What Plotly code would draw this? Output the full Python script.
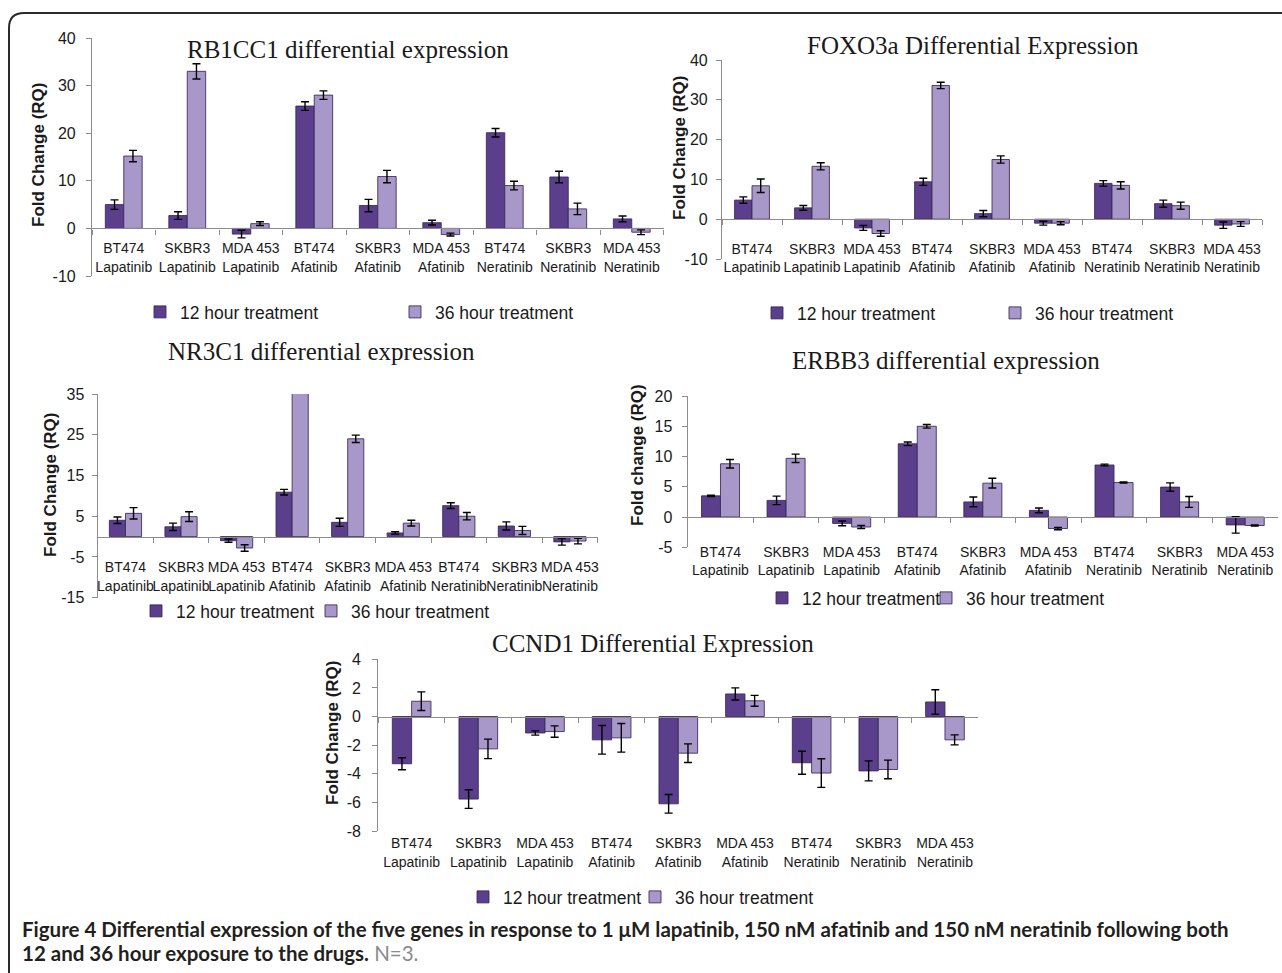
import plotly.graph_objects as go

W, H = 1282, 973

categories = ["BT474<br>Lapatinib", "SKBR3<br>Lapatinib", "MDA 453<br>Lapatinib",
              "BT474<br>Afatinib", "SKBR3<br>Afatinib", "MDA 453<br>Afatinib",
              "BT474<br>Neratinib", "SKBR3<br>Neratinib", "MDA 453<br>Neratinib"]
series_names = ["12 hour treatment", "36 hour treatment"]

rb1cc1_12h = [5.0, 2.7, -1.2, 25.7, 4.8, 1.2, 20.1, 10.8, 2.0]
rb1cc1_12h_err = [1.0, 0.8, 0.8, 0.9, 1.3, 0.5, 0.9, 1.2, 0.6]
rb1cc1_36h = [15.2, 33.0, 1.0, 28.0, 10.9, -1.3, 9.0, 4.1, -0.8]
rb1cc1_36h_err = [1.2, 1.6, 0.4, 0.9, 1.3, 0.3, 0.9, 1.2, 0.5]

foxo3a_12h = [4.8, 2.85, -2.2, 9.4, 1.4, -1.0, 9.0, 3.9, -1.5]
foxo3a_12h_err = [0.8, 0.6, 0.6, 0.9, 0.8, 0.5, 0.7, 0.9, 0.8]
foxo3a_36h = [8.4, 13.3, -3.6, 33.6, 15.0, -1.0, 8.5, 3.4, -1.2]
foxo3a_36h_err = [1.7, 0.9, 0.7, 0.8, 0.9, 0.4, 0.9, 0.9, 0.6]

nr3c1_12h = [4.0, 2.4, -1.0, 10.9, 3.5, 0.9, 7.6, 2.6, -1.3]
nr3c1_12h_err = [0.8, 0.9, 0.4, 0.7, 1.0, 0.3, 0.7, 1.0, 0.8]
nr3c1_36h = [5.7, 4.9, -2.8, 40.0, 24.0, 3.3, 5.0, 1.5, -1.1]
nr3c1_36h_err = [1.4, 1.2, 0.8, None, 0.9, 0.7, 0.9, 1.0, 0.7]

erbb3_12h = [3.5, 2.75, -1.05, 12.1, 2.5, 1.1, 8.6, 4.95, -1.3]
erbb3_12h_err = [0.1, 0.7, 0.4, 0.3, 0.8, 0.4, 0.15, 0.7, 1.35]
erbb3_36h = [8.8, 9.7, -1.65, 15.0, 5.6, -1.9, 5.7, 2.5, -1.4]
erbb3_36h_err = [0.7, 0.7, 0.25, 0.3, 0.8, 0.2, 0.1, 0.9, 0.1]

ccnd1_12h = [-3.3, -5.77, -1.15, -1.63, -6.1, 1.58, -3.23, -3.8, 1.02]
ccnd1_12h_err = [0.42, 0.65, 0.15, 1.0, 0.65, 0.42, 0.8, 0.7, 0.85]
ccnd1_36h = [1.07, -2.26, -1.05, -1.49, -2.56, 1.1, -3.95, -3.7, -1.63]
ccnd1_36h_err = [0.65, 0.68, 0.4, 1.0, 0.65, 0.38, 1.0, 0.65, 0.35]

C12 = "#5b3f8d"
C36 = "#a898ca"
EDGE = "rgba(55,40,85,0.85)"
AXC = "#8c8c8c"
TXT = "#1a1a1a"
SANS = "Liberation Sans, Arial, sans-serif"
SERIF = "Liberation Serif, Times New Roman, serif"
CAP = "Lato, Liberation Sans Narrow, sans-serif"


def fx(px):
    return px / W


def fy(py):
    return 1 - py / H


panels = [
    dict(title="RB1CC1 differential expression", ytitle="Fold Change (RQ)",
         v12=rb1cc1_12h, e12=rb1cc1_12h_err, v36=rb1cc1_36h, e36=rb1cc1_36h_err,
         yr=[-10, 40], tv=[-10, 0, 10, 20, 30, 40],
         xd=(92, 663.5), yd=(38, 276), tpos=(348, 49), ypos=(39, 155),
         xstand=7, ystand=7, lgx=(180, 435), lgy=312),
    dict(title="FOXO3a Differential Expression", ytitle="Fold Change (RQ)",
         v12=foxo3a_12h, e12=foxo3a_12h_err, v36=foxo3a_36h, e36=foxo3a_36h_err,
         yr=[-10, 40], tv=[-10, 0, 10, 20, 30, 40],
         xd=(722, 1262), yd=(60, 259), tpos=(973, 45), ypos=(679, 148),
         xstand=17, ystand=5, lgx=(797, 1035), lgy=313),
    dict(title="NR3C1 differential expression", ytitle="Fold Change (RQ)",
         v12=nr3c1_12h, e12=nr3c1_12h_err, v36=nr3c1_36h, e36=nr3c1_36h_err,
         yr=[-15, 35], tv=[-15, -5, 5, 15, 25, 35],
         xd=(97.7, 597.7), yd=(394, 597.7), tpos=(322, 351), ypos=(50, 485),
         xstand=18, ystand=4, lgx=(176, 351), lgy=611),
    dict(title="ERBB3 differential expression", ytitle="Fold change (RQ)",
         v12=erbb3_12h, e12=erbb3_12h_err, v36=erbb3_36h, e36=erbb3_36h_err,
         yr=[-5, 20], tv=[-5, 0, 5, 10, 15, 20],
         xd=(687.7, 1278), yd=(396, 547.3), tpos=(946, 360), ypos=(637, 455),
         xstand=22, ystand=6, lgx=(802, 966), lgy=598),
    dict(title="CCND1 Differential Expression", ytitle="Fold Change (RQ)",
         v12=ccnd1_12h, e12=ccnd1_12h_err, v36=ccnd1_36h, e36=ccnd1_36h_err,
         yr=[-8, 4], tv=[-8, -6, -4, -2, 0, 2, 4],
         xd=(378.3, 978.3), yd=(659.3, 831), tpos=(653, 643), ypos=(332, 733),
         xstand=114, ystand=8, lgx=(503, 675), lgy=897),
]

fig = go.Figure()
annotations = []
layout_axes = {}
legend_counter = 0

for i, p in enumerate(panels, start=1):
    sfx = "" if i == 1 else str(i)
    xa, ya = "x" + sfx, "y" + sfx
    for j, (name, vals, errs, col) in enumerate(
            [(series_names[0], p["v12"], p["e12"], C12),
             (series_names[1], p["v36"], p["e36"], C36)]):
        legend_counter += 1
        lgname = "legend" if legend_counter == 1 else "legend" + str(legend_counter)
        fig.add_trace(go.Bar(
            x=categories, y=vals, name=name, xaxis=xa, yaxis=ya, legend=lgname,
            showlegend=True,
            marker=dict(color=col, line=dict(color=EDGE, width=1)),
            error_y=dict(type="data", array=errs, visible=True, color="black",
                         thickness=1.4, width=4),
        ))
        layout_axes[lgname] = dict(
            orientation="h", x=fx(p["lgx"][j] - 40), y=fy(p["lgy"]),
            xanchor="left", yanchor="middle", bgcolor="rgba(0,0,0,0)",
            font=dict(family=SANS, size=17.5, color=TXT),
            itemclick=False, itemdoubleclick=False, visible=True,
        )
    y0, y1 = p["yr"]
    dom_lo, dom_hi = fy(p["yd"][1]), fy(p["yd"][0])
    zero_pos = dom_lo + (0 - y0) / (y1 - y0) * (dom_hi - dom_lo)
    layout_axes["xaxis" + sfx] = dict(
        domain=[fx(p["xd"][0]), fx(p["xd"][1])], anchor="free", position=zero_pos,
        type="category", tickson="boundaries", ticks="outside", ticklen=5,
        tickcolor=AXC, showline=True, linecolor=AXC, linewidth=1.2,
        showgrid=False, zeroline=False, ticklabelstandoff=p["xstand"],
        tickfont=dict(family=SANS, size=14, color=TXT), tickangle=0,
    )
    layout_axes["yaxis" + sfx] = dict(
        domain=[dom_lo, dom_hi], anchor=xa, range=p["yr"], tickmode="array",
        tickvals=p["tv"], ticktext=[str(v) for v in p["tv"]],
        ticks="outside", ticklen=5, tickcolor=AXC, showline=True, linecolor=AXC,
        linewidth=1.2, showgrid=False, zeroline=False,
        ticklabelstandoff=p["ystand"],
        tickfont=dict(family=SANS, size=16, color=TXT),
    )
    annotations.append(dict(
        text=p["title"], x=fx(p["tpos"][0]), y=fy(p["tpos"][1]), xref="paper",
        yref="paper", xanchor="center", yanchor="middle", showarrow=False,
        font=dict(family=SERIF, size=25, color=TXT)))
    annotations.append(dict(
        text="<b>" + p["ytitle"] + "</b>", x=fx(p["ypos"][0]), y=fy(p["ypos"][1]),
        xref="paper", yref="paper", xanchor="center", yanchor="middle",
        showarrow=False, textangle=-90,
        font=dict(family=SANS, size=17, color=TXT)))

annotations.append(dict(
    text="<b>Figure 4 Differential expression of the five genes in response to 1 μM lapatinib, "
         "150 nM afatinib and 150 nM neratinib following both</b>",
    x=fx(20), y=fy(929), xref="paper", yref="paper", xanchor="left", yanchor="middle",
    showarrow=False, font=dict(family=CAP, size=20.5, color="#231f20")))
annotations.append(dict(
    text="<b>12 and 36 hour exposure to the drugs.</b> <span style='color:#8a8a8a'>N=3.</span>",
    x=fx(20), y=fy(953), xref="paper", yref="paper", xanchor="left", yanchor="middle",
    showarrow=False, font=dict(family=CAP, size=20.5, color="#231f20")))

bx, by, r = 9, 13, 15
border_path = (f"M {fx(bx)},{fy(H + 10)} L {fx(bx)},{fy(by + r)} "
               f"Q {fx(bx)},{fy(by)} {fx(bx + r)},{fy(by)} L {fx(W + 10)},{fy(by)}")

fig.update_layout(
    width=W, height=H, margin=dict(l=0, r=0, t=0, b=0, autoexpand=False),
    paper_bgcolor="white", plot_bgcolor="white", showlegend=True,
    barmode="group", bargap=0.42, bargroupgap=0,
    annotations=annotations,
    shapes=[dict(type="path", path=border_path, xref="paper", yref="paper",
                 line=dict(color="#2a2a2a", width=2))],
    **layout_axes,
)

fig.write_html(
    "out.html",
    config={"displayModeBar": False},
    post_script="document.body.style.margin='0px';document.body.style.overflow='hidden';",
)
